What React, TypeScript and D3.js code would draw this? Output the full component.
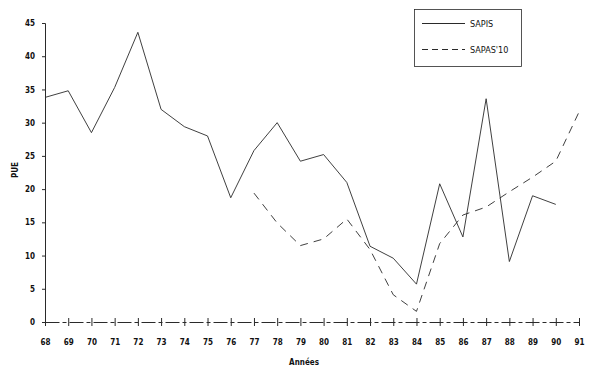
import { useEffect, useRef } from 'react';
import * as d3 from 'd3';

const years = ['68', '69', '70', '71', '72', '73', '74', '75', '76', '77', '78', '79',
  '80', '81', '82', '83', '84', '85', '86', '87', '88', '89', '90', '91'];
// SAPIS: 68 -> 90
const sapis = [33.8, 34.8, 28.5, 35.3, 43.6, 32, 29.4, 28, 18.7, 25.8, 30, 24.2,
  25.2, 21, 11.4, 9.6, 5.7, 20.8, 12.8, 33.6, 9.1, 19, 17.7];
// SAPAS'10: 77 -> 91
const sapasYears = ['77', '78', '79', '80', '81', '82', '83', '84', '85', '86', '87', '88', '89', '90', '91'];
const sapas = [19.4, 14.9, 11.5, 12.5, 15.5, 10.9, 4.1, 1.6, 11.8, 16.1, 17.3, 19.6, 21.8, 24.2, 31.6];
const yTicks = [0, 5, 10, 15, 20, 25, 30, 35, 40, 45];

export default function App() {
  const ref = useRef<SVGSVGElement>(null);

  useEffect(() => {
    const svg = d3.select(ref.current);
    svg.selectAll('*').remove();
    const font = '"Liberation Sans Narrow", "DejaVu Sans Condensed", sans-serif';
    const ink = '#2a2a2a';

    const x = d3.scalePoint<string>().domain(years).range([45, 579]);
    const y = d3.scaleLinear().domain([0, 45]).range([322, 23]);

    // y axis
    const yAxis = svg.append('g').attr('transform', 'translate(45,0)')
      .call(d3.axisLeft(y).tickValues(yTicks).tickSize(3).tickPadding(7));
    yAxis.select('.domain').attr('stroke', ink).attr('stroke-width', 1);
    yAxis.selectAll('line').attr('stroke', ink);
    yAxis.selectAll('text').style('font-family', font).style('font-size', '8px')
      .style('font-weight', 'bold').attr('fill', '#111');

    // x axis
    const xAxis = svg.append('g').attr('transform', `translate(0,${y(0)})`)
      .call(d3.axisBottom(x).tickSize(0).tickPadding(17));
    xAxis.select('.domain').attr('stroke', ink).attr('stroke-width', 1)
      .attr('stroke-dasharray', '14,3,4,3');
    xAxis.selectAll('text').style('font-family', font).style('font-size', '8px')
      .style('font-weight', 'bold').attr('fill', '#111');
    xAxis.selectAll('.tick').append('line')
      .attr('y1', -4).attr('y2', 4).attr('stroke', ink);

    // lines
    const line = d3.line<[string, number]>().x(d => x(d[0]) as number).y(d => y(d[1]));
    svg.append('path')
      .datum(sapis.map((v, i) => [years[i], v] as [string, number]))
      .attr('d', line).attr('fill', 'none').attr('stroke', ink).attr('stroke-width', 0.9);
    svg.append('path')
      .datum(sapas.map((v, i) => [sapasYears[i], v] as [string, number]))
      .attr('d', line).attr('fill', 'none').attr('stroke', ink).attr('stroke-width', 0.9)
      .attr('stroke-dasharray', '8,6');

    // axis titles
    svg.append('text').attr('transform', 'translate(18,170) rotate(-90)')
      .attr('text-anchor', 'middle').style('font-family', font).style('font-size', '8px')
      .style('font-weight', 'bold').attr('fill', '#111').text('PUE');
    svg.append('text').attr('x', 304).attr('y', 365)
      .attr('text-anchor', 'middle').style('font-family', font).style('font-size', '8px')
      .style('font-weight', 'bold').attr('fill', '#111').text('Années');

    // legend
    const lg = svg.append('g');
    lg.append('rect').attr('x', 414.5).attr('y', 9.5).attr('width', 107).attr('height', 57)
      .attr('fill', 'white').attr('stroke', ink).attr('stroke-width', 0.8);
    lg.append('line').attr('x1', 422).attr('x2', 465).attr('y1', 23.5).attr('y2', 23.5)
      .attr('stroke', ink);
    lg.append('line').attr('x1', 422).attr('x2', 465).attr('y1', 49.5).attr('y2', 49.5)
      .attr('stroke', ink).attr('stroke-dasharray', '6,4');
    lg.append('text').attr('x', 470).attr('y', 27).style('font-family', font)
      .style('font-size', '9px').attr('fill', '#111').text('SAPIS');
    lg.append('text').attr('x', 470).attr('y', 53).style('font-family', font)
      .style('font-size', '9px').attr('fill', '#111').text("SAPAS'10");
  }, []);

  return (
    <svg ref={ref} width={600} height={374}
      style={{ position: 'absolute', left: 0, top: 0, background: 'white' }} />
  );
}
